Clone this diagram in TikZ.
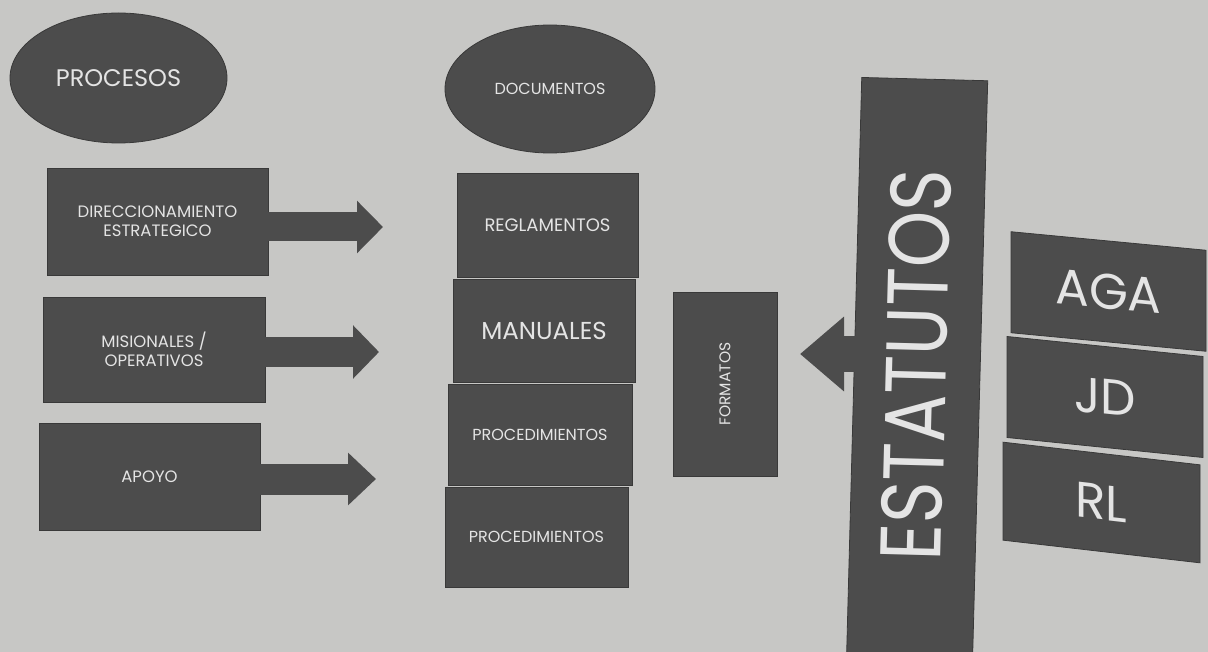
\documentclass[tikz,border=0pt]{standalone}
\usepackage{fontspec}
\setmainfont{Poppins}
\usetikzlibrary{arrows.meta,shapes.geometric}
\definecolor{bg}{HTML}{C7C7C5}
\definecolor{boxc}{HTML}{4C4C4C}
\definecolor{txt}{HTML}{E4E4E4}
\newcommand{\fs}[2]{\fontsize{#1}{#2}\selectfont}
\begin{document}
\begin{tikzpicture}[x=1pt,y=-1pt,
  darkbox/.style={rectangle, fill=boxc, draw=boxc!75!black, line width=0.8pt, text=txt, align=center, inner sep=0pt},
  oval/.style={ellipse, fill=boxc, draw=boxc!75!black, line width=0.8pt, text=txt, inner sep=0pt},
  blockarrow/.style n args={3}{draw=boxc, line width=#1, -{Triangle[length=#3, width=#2, fill=boxc]}}]
\useasboundingbox (0,0) rectangle (1208,652);
\clip (0,0) rectangle (1208,652);
\fill[bg] (0,0) rectangle (1208,652);

% ellipses
\node[oval, minimum width=217pt, minimum height=130pt, font=\fs{24}{28}] (procesos) at (118.5,78) {PROCESOS};
\node[oval, minimum width=210pt, minimum height=128pt, font=\fs{16}{19}] (documentos) at (550,89) {DOCUMENTOS};

% process boxes
\node[darkbox, minimum width=221pt, minimum height=107pt, font=\fs{16.5}{19}] (dir) at (157.5,221.5) {DIRECCIONAMIENTO\\ESTRATEGICO};
\node[darkbox, minimum width=222pt, minimum height=105pt, font=\fs{16.5}{19}] (mis) at (154,349.5) {MISIONALES /\\OPERATIVOS};
\node[darkbox, minimum width=221pt, minimum height=107pt, font=\fs{16.5}{19}] (apo) at (149.5,476.5) {APOYO};

% arrow tips
\coordinate (t1) at (383,227);
\coordinate (t2) at (379,352);
\coordinate (t3) at (376,479);
\draw[blockarrow={29pt}{51pt}{26pt}] (dir.east |- t1) -- (t1);
\draw[blockarrow={30pt}{52pt}{26pt}] (mis.east |- t2) -- (t2);
\draw[blockarrow={31pt}{51pt}{28pt}] (apo.east |- t3) -- (t3);

% document column
\node[darkbox, minimum width=181pt, minimum height=104pt, font=\fs{18}{21}] (reg) at (547.5,225) {REGLAMENTOS};
\node[darkbox, minimum width=182pt, minimum height=103pt, font=\fs{24.5}{28}] (man) at (544,330.5) {MANUALES};
\node[darkbox, minimum width=184pt, minimum height=101pt, font=\fs{16}{19}] (proc1) at (540,434.5) {PROCEDIMIENTOS};
\node[darkbox, minimum width=183pt, minimum height=100pt, font=\fs{16}{19}] (proc2) at (536.5,537) {PROCEDIMIENTOS};

% formatos
\node[darkbox, minimum width=104pt, minimum height=184pt] (form) at (725,384) {};
\node[text=txt, font=\fs{15.5}{18}, rotate=90] (formt) at (form.center) {FORMATOS};

% estatutos
\node[darkbox, minimum width=126pt, minimum height=590pt, rotate=-1.5] (est) at (917,374) {};
\node[text=txt, font=\fs{86}{96}, rotate=88.5, inner sep=0pt] (estt) at (916,365) {\scalebox{0.835}[1]{ESTATUTOS}};
\coordinate (t4) at (800,354);
\draw[blockarrow={36pt}{72pt}{44pt}] ([xshift=4pt]est.west |- t4) -- (t4);

% right column (photographed in perspective)
\node[darkbox, yslant=-0.095, minimum width=195pt, minimum height=101pt, font=\fs{50}{58}] (aga) at (1108.5,291.5) {AGA};
\node[darkbox, yslant=-0.102, minimum width=196pt, minimum height=101pt, font=\fs{50}{58}] (jd) at (1105,397) {JD};
\node[darkbox, yslant=-0.115, minimum width=197pt, minimum height=98pt, font=\fs{50}{58}] (rl) at (1101.5,502.5) {RL};
\end{tikzpicture}
\end{document}
